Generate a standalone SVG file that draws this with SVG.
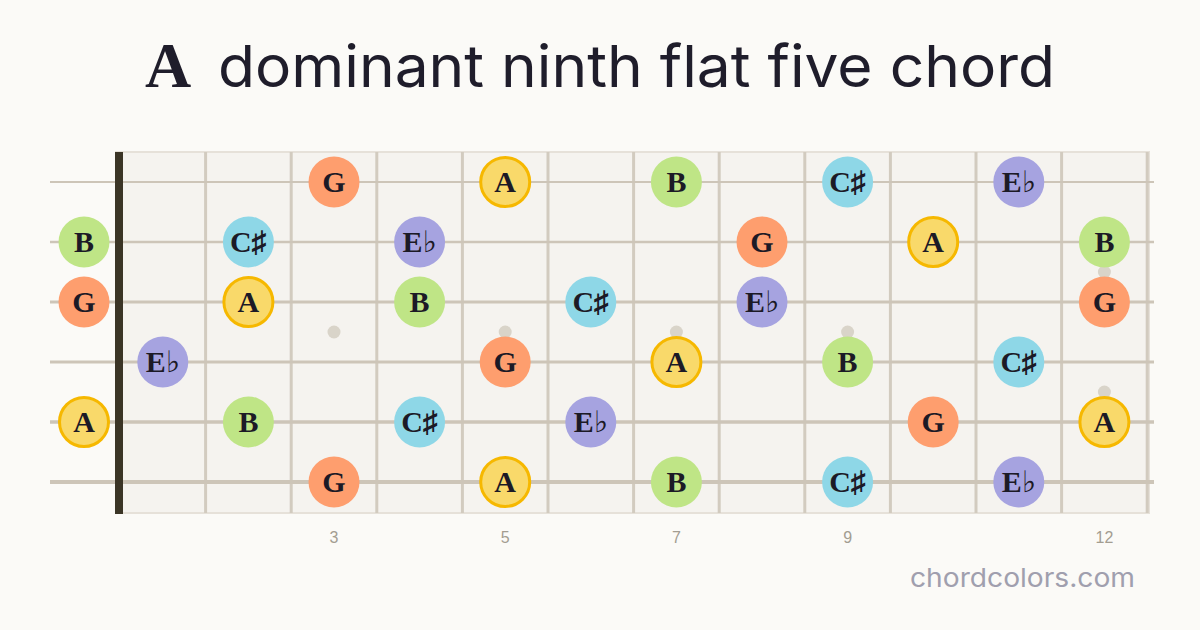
<svg xmlns="http://www.w3.org/2000/svg" width="1200" height="630" viewBox="0 0 1200 630">
<style>
.str{stroke:#cdc5b8}
.fret{stroke:#d2cbbf;stroke-width:3}
.dot{fill:#d9d4c9}
.G{fill:#fe9e6e}
.B{fill:#bfe586}
.C{fill:#8ed7e7}
.E{fill:#a6a3e0}
.A{fill:#f9d96a;stroke:#f6b800;stroke-width:3}
.lbl{font-family:"Liberation Serif","DejaVu Serif",serif;font-weight:bold;font-size:30px;fill:#1c1a26;text-anchor:middle}
.num{font-family:"Liberation Sans","Noto Sans",sans-serif;font-size:16px;fill:#a39d91;text-anchor:middle}
</style>
<rect width="1200" height="630" fill="#fbfaf7"/>
<g id="title">
<text x="145" y="87" font-family="Liberation Serif,serif" font-weight="bold" font-size="64" fill="#1f1d2b">A</text>
<text x="218" y="87" font-family="Inter,'Noto Sans',sans-serif" font-size="58" fill="#1f1d2b" textLength="837" lengthAdjust="spacingAndGlyphs">dominant ninth flat five chord</text>
</g>
<g id="board">
<rect x="116" y="152" width="1033" height="361" fill="#f5f3ef" stroke="#e6e1d9" stroke-width="2"/>
<g id="frets">
<line class="fret" x1="205.6" y1="152" x2="205.6" y2="513"/>
<line class="fret" x1="291.2" y1="152" x2="291.2" y2="513"/>
<line class="fret" x1="376.8" y1="152" x2="376.8" y2="513"/>
<line class="fret" x1="462.4" y1="152" x2="462.4" y2="513"/>
<line class="fret" x1="548" y1="152" x2="548" y2="513"/>
<line class="fret" x1="633.6" y1="152" x2="633.6" y2="513"/>
<line class="fret" x1="719.2" y1="152" x2="719.2" y2="513"/>
<line class="fret" x1="804.8" y1="152" x2="804.8" y2="513"/>
<line class="fret" x1="890.4" y1="152" x2="890.4" y2="513"/>
<line class="fret" x1="976" y1="152" x2="976" y2="513"/>
<line class="fret" x1="1061.6" y1="152" x2="1061.6" y2="513"/>
<line class="fret" x1="1147.2" y1="152" x2="1147.2" y2="513"/>
</g>
<g id="markers">
<circle class="dot" cx="334" cy="332" r="6.5"/>
<circle class="dot" cx="505.2" cy="332" r="6.5"/>
<circle class="dot" cx="676.4" cy="332" r="6.5"/>
<circle class="dot" cx="847.6" cy="332" r="6.5"/>
<circle class="dot" cx="1104.4" cy="272" r="6.5"/>
<circle class="dot" cx="1104.4" cy="392" r="6.5"/>
</g>
<g id="strings">
<line class="str" x1="50" y1="182" x2="1154" y2="182" stroke-width="2"/>
<line class="str" x1="50" y1="242" x2="1154" y2="242" stroke-width="2.4"/>
<line class="str" x1="50" y1="302" x2="1154" y2="302" stroke-width="2.8"/>
<line class="str" x1="50" y1="362" x2="1154" y2="362" stroke-width="3.2"/>
<line class="str" x1="50" y1="422" x2="1154" y2="422" stroke-width="3.6"/>
<line class="str" x1="50" y1="482" x2="1154" y2="482" stroke-width="4"/>
</g>
<rect id="nut" x="115" y="152" width="8" height="362" fill="#3b3526"/>
</g>
<g id="notes">
<g id="s1">
<circle class="G" cx="334" cy="182" r="25.5"/><text class="lbl" x="334" y="192">G</text>
<circle class="A" cx="505.2" cy="182" r="24.5"/><text class="lbl" x="505.2" y="192">A</text>
<circle class="B" cx="676.4" cy="182" r="25.5"/><text class="lbl" x="676.4" y="192">B</text>
<circle class="C" cx="847.6" cy="182" r="25.5"/><text class="lbl" x="847.6" y="192">C♯</text>
<circle class="E" cx="1018.8" cy="182" r="25.5"/><text class="lbl" x="1018.8" y="192">E♭</text>
</g>
<g id="s2">
<circle class="B" cx="84" cy="242" r="25.5"/><text class="lbl" x="84" y="252">B</text>
<circle class="C" cx="248.4" cy="242" r="25.5"/><text class="lbl" x="248.4" y="252">C♯</text>
<circle class="E" cx="419.6" cy="242" r="25.5"/><text class="lbl" x="419.6" y="252">E♭</text>
<circle class="G" cx="762" cy="242" r="25.5"/><text class="lbl" x="762" y="252">G</text>
<circle class="A" cx="933.2" cy="242" r="24.5"/><text class="lbl" x="933.2" y="252">A</text>
<circle class="B" cx="1104.4" cy="242" r="25.5"/><text class="lbl" x="1104.4" y="252">B</text>
</g>
<g id="s3">
<circle class="G" cx="84" cy="302" r="25.5"/><text class="lbl" x="84" y="312">G</text>
<circle class="A" cx="248.4" cy="302" r="24.5"/><text class="lbl" x="248.4" y="312">A</text>
<circle class="B" cx="419.6" cy="302" r="25.5"/><text class="lbl" x="419.6" y="312">B</text>
<circle class="C" cx="590.8" cy="302" r="25.5"/><text class="lbl" x="590.8" y="312">C♯</text>
<circle class="E" cx="762" cy="302" r="25.5"/><text class="lbl" x="762" y="312">E♭</text>
<circle class="G" cx="1104.4" cy="302" r="25.5"/><text class="lbl" x="1104.4" y="312">G</text>
</g>
<g id="s4">
<circle class="E" cx="162.8" cy="362" r="25.5"/><text class="lbl" x="162.8" y="372">E♭</text>
<circle class="G" cx="505.2" cy="362" r="25.5"/><text class="lbl" x="505.2" y="372">G</text>
<circle class="A" cx="676.4" cy="362" r="24.5"/><text class="lbl" x="676.4" y="372">A</text>
<circle class="B" cx="847.6" cy="362" r="25.5"/><text class="lbl" x="847.6" y="372">B</text>
<circle class="C" cx="1018.8" cy="362" r="25.5"/><text class="lbl" x="1018.8" y="372">C♯</text>
</g>
<g id="s5">
<circle class="A" cx="84" cy="422" r="24.5"/><text class="lbl" x="84" y="432">A</text>
<circle class="B" cx="248.4" cy="422" r="25.5"/><text class="lbl" x="248.4" y="432">B</text>
<circle class="C" cx="419.6" cy="422" r="25.5"/><text class="lbl" x="419.6" y="432">C♯</text>
<circle class="E" cx="590.8" cy="422" r="25.5"/><text class="lbl" x="590.8" y="432">E♭</text>
<circle class="G" cx="933.2" cy="422" r="25.5"/><text class="lbl" x="933.2" y="432">G</text>
<circle class="A" cx="1104.4" cy="422" r="24.5"/><text class="lbl" x="1104.4" y="432">A</text>
</g>
<g id="s6">
<circle class="G" cx="334" cy="482" r="25.5"/><text class="lbl" x="334" y="492">G</text>
<circle class="A" cx="505.2" cy="482" r="24.5"/><text class="lbl" x="505.2" y="492">A</text>
<circle class="B" cx="676.4" cy="482" r="25.5"/><text class="lbl" x="676.4" y="492">B</text>
<circle class="C" cx="847.6" cy="482" r="25.5"/><text class="lbl" x="847.6" y="492">C♯</text>
<circle class="E" cx="1018.8" cy="482" r="25.5"/><text class="lbl" x="1018.8" y="492">E♭</text>
</g>
</g>
<g id="fretnums">
<text class="num" x="334" y="543">3</text>
<text class="num" x="505.2" y="543">5</text>
<text class="num" x="676.4" y="543">7</text>
<text class="num" x="847.6" y="543">9</text>
<text class="num" x="1104.4" y="543">12</text>
</g>
<text id="brand" x="910" y="587" font-family="Inter,'Noto Sans',sans-serif" font-size="26" fill="#a09fae" textLength="225" lengthAdjust="spacingAndGlyphs">chordcolors.com</text>
</svg>
